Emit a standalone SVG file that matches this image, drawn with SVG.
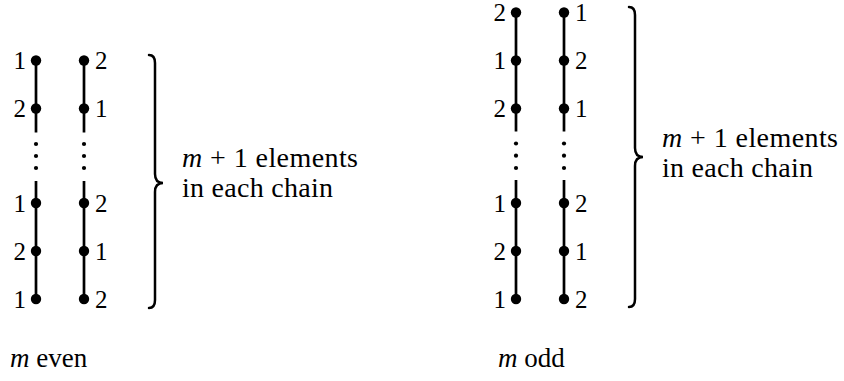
<svg xmlns="http://www.w3.org/2000/svg" width="844" height="381" viewBox="0 0 844 381">
<style>
text{font-family:"Liberation Serif","DejaVu Serif",serif;fill:#000}
.n{font-size:25px}
.t{font-size:28px}
.c{font-size:27px}
.l{text-anchor:end}
.it{font-style:italic}
.edge{stroke:#000;stroke-width:2.7;fill:none}
.dot{fill:#000}
.sd{fill:#000}
.brace{stroke:#000;stroke-width:2.5;fill:none;stroke-linecap:round}
</style>
<rect width="844" height="381" fill="#fff"/>
<g id="connectors">
  <line class="edge" x1="36" y1="60.5" x2="36" y2="132.5"/>
  <line class="edge" x1="36" y1="181" x2="36" y2="299"/>
  <line class="edge" x1="84" y1="60.5" x2="84" y2="132.5"/>
  <line class="edge" x1="84" y1="181" x2="84" y2="299"/>
  <circle class="sd" cx="36" cy="144" r="2.1"/><circle class="sd" cx="36" cy="156" r="2.1"/><circle class="sd" cx="36" cy="168" r="2.1"/>
  <circle class="sd" cx="84" cy="144" r="2.1"/><circle class="sd" cx="84" cy="156" r="2.1"/><circle class="sd" cx="84" cy="168" r="2.1"/>
  <line class="edge" x1="516" y1="12.5" x2="516" y2="131.5"/>
  <line class="edge" x1="516" y1="180" x2="516" y2="299"/>
  <line class="edge" x1="564" y1="12.5" x2="564" y2="131.5"/>
  <line class="edge" x1="564" y1="180" x2="564" y2="299"/>
  <circle class="sd" cx="516" cy="143.5" r="2.1"/><circle class="sd" cx="516" cy="155.7" r="2.1"/><circle class="sd" cx="516" cy="168" r="2.1"/>
  <circle class="sd" cx="564" cy="143.5" r="2.1"/><circle class="sd" cx="564" cy="155.7" r="2.1"/><circle class="sd" cx="564" cy="168" r="2.1"/>
</g>
<g id="e-a1"><circle class="dot" cx="36" cy="60.5" r="5.2"/><text class="n l" x="26" y="69">1</text></g>
<g id="e-a2"><circle class="dot" cx="36" cy="108.5" r="5.2"/><text class="n l" x="26" y="117">2</text></g>
<g id="e-a3"><circle class="dot" cx="36" cy="203" r="5.2"/><text class="n l" x="26" y="211.5">1</text></g>
<g id="e-a4"><circle class="dot" cx="36" cy="251" r="5.2"/><text class="n l" x="26" y="259.5">2</text></g>
<g id="e-a5"><circle class="dot" cx="36" cy="299" r="5.2"/><text class="n l" x="26" y="307.5">1</text></g>
<g id="e-b1"><circle class="dot" cx="84" cy="60.5" r="5.2"/><text class="n" x="95" y="69">2</text></g>
<g id="e-b2"><circle class="dot" cx="84" cy="108.5" r="5.2"/><text class="n" x="95" y="117">1</text></g>
<g id="e-b3"><circle class="dot" cx="84" cy="203" r="5.2"/><text class="n" x="95" y="211.5">2</text></g>
<g id="e-b4"><circle class="dot" cx="84" cy="251" r="5.2"/><text class="n" x="95" y="259.5">1</text></g>
<g id="e-b5"><circle class="dot" cx="84" cy="299" r="5.2"/><text class="n" x="95" y="307.5">2</text></g>
<g id="o-a0"><circle class="dot" cx="516" cy="12.5" r="5.2"/><text class="n l" x="506" y="21">2</text></g>
<g id="o-a1"><circle class="dot" cx="516" cy="60.5" r="5.2"/><text class="n l" x="506" y="69">1</text></g>
<g id="o-a2"><circle class="dot" cx="516" cy="108.5" r="5.2"/><text class="n l" x="506" y="117">2</text></g>
<g id="o-a3"><circle class="dot" cx="516" cy="203" r="5.2"/><text class="n l" x="506" y="211.5">1</text></g>
<g id="o-a4"><circle class="dot" cx="516" cy="251" r="5.2"/><text class="n l" x="506" y="259.5">2</text></g>
<g id="o-a5"><circle class="dot" cx="516" cy="299" r="5.2"/><text class="n l" x="506" y="307.5">1</text></g>
<g id="o-b0"><circle class="dot" cx="564" cy="12.5" r="5.2"/><text class="n" x="575" y="21">1</text></g>
<g id="o-b1"><circle class="dot" cx="564" cy="60.5" r="5.2"/><text class="n" x="575" y="69">2</text></g>
<g id="o-b2"><circle class="dot" cx="564" cy="108.5" r="5.2"/><text class="n" x="575" y="117">1</text></g>
<g id="o-b3"><circle class="dot" cx="564" cy="203" r="5.2"/><text class="n" x="575" y="211.5">2</text></g>
<g id="o-b4"><circle class="dot" cx="564" cy="251" r="5.2"/><text class="n" x="575" y="259.5">1</text></g>
<g id="o-b5"><circle class="dot" cx="564" cy="299" r="5.2"/><text class="n" x="575" y="307.5">2</text></g>
<g id="brace-even">
  <path class="brace" d="M149,55 Q155,55 155,63 L155,174 Q155,183 163,183 Q155,183 155,192 L155,300 Q155,308 149,308"/>
</g>
<g id="brace-odd">
  <path class="brace" d="M629,7 Q635,7 635,15 L635,148 Q635,157 643,157 Q635,157 635,166 L635,299 Q635,307 629,307"/>
</g>
<g id="label-even">
  <text class="t" x="182" y="167" textLength="176" lengthAdjust="spacing"><tspan class="it">m</tspan> + 1 elements</text>
  <text class="t" x="182" y="197" textLength="151" lengthAdjust="spacing">in each chain</text>
</g>
<g id="label-odd">
  <text class="t" x="662" y="147" textLength="176" lengthAdjust="spacing"><tspan class="it">m</tspan> + 1 elements</text>
  <text class="t" x="662" y="177" textLength="151" lengthAdjust="spacing">in each chain</text>
</g>
<g id="caption-even"><text class="c" x="10" y="367"><tspan class="it">m</tspan> even</text></g>
<g id="caption-odd"><text class="c" x="498" y="367"><tspan class="it">m</tspan> odd</text></g>
</svg>
